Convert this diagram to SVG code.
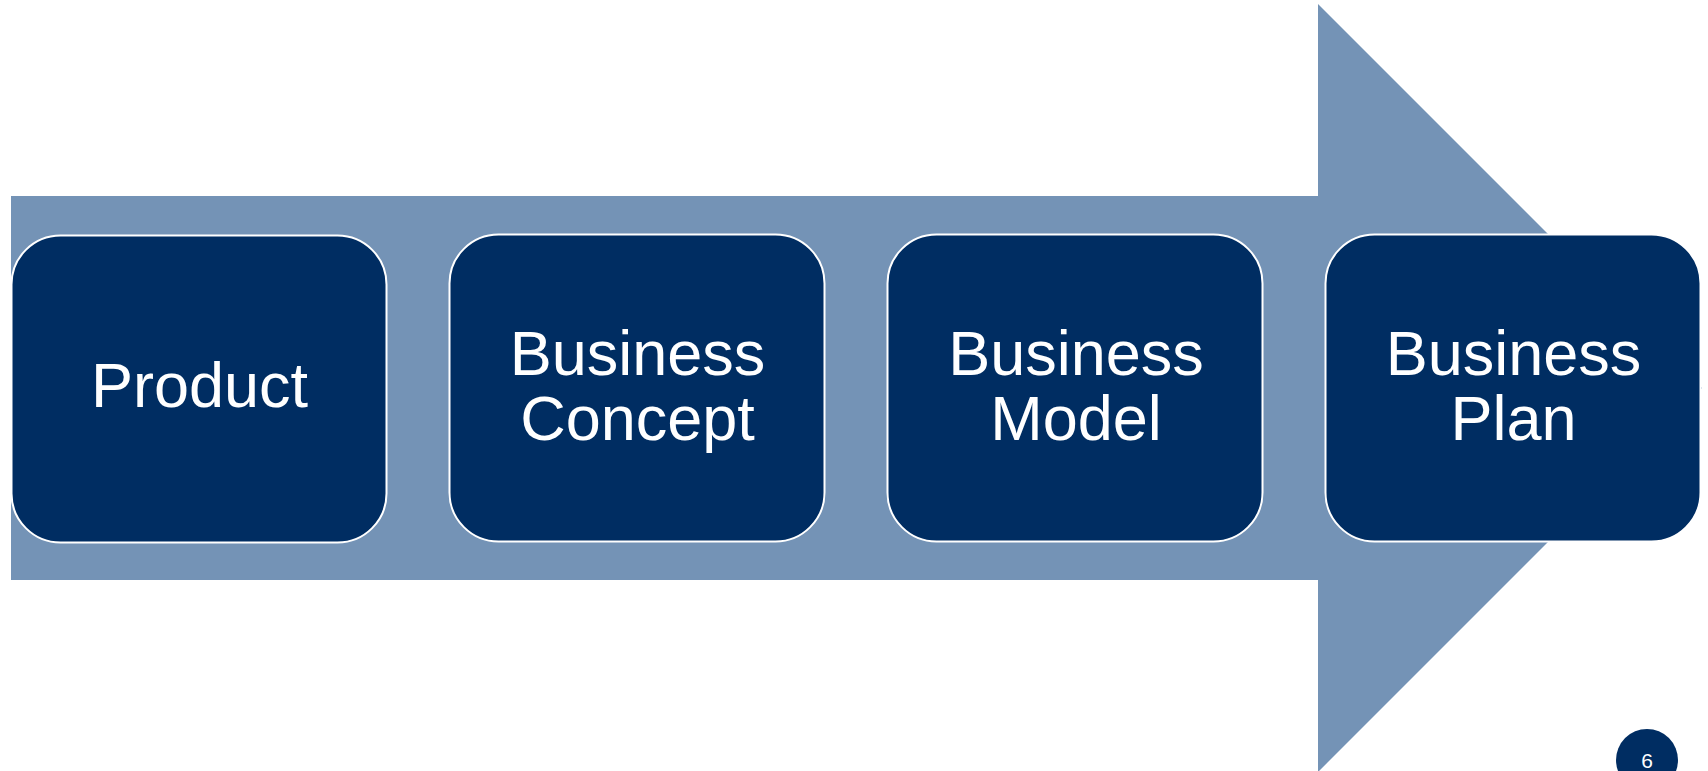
<svg xmlns="http://www.w3.org/2000/svg" width="1708" height="771" viewBox="0 0 1708 771">
  <style>
    .step { fill: #002D62; stroke: #FFFFFF; stroke-width: 2; }
    .label { fill: #FFFFFF; font-family: "Liberation Sans", Arial, sans-serif; font-size: 63px; text-anchor: middle; }
    .pageno { fill: #FFFFFF; font-family: "Liberation Sans", Arial, sans-serif; font-size: 21px; text-anchor: middle; }
  </style>
  <rect width="1708" height="771" fill="#FFFFFF"/>

  <!-- big process arrow behind the steps -->
  <g id="connectors">
    <polygon points="11,196 1318,196 1318,4 1702,388 1318,772 1318,580 11,580" fill="#7493B6"/>
  </g>

  <g id="product">
    <rect class="step" x="11.5" y="235.5" width="375" height="307" rx="49" ry="49"/>
    <text class="label" x="199.5" y="407">Product</text>
  </g>

  <g id="business-concept">
    <rect class="step" x="449.5" y="234.5" width="375" height="307" rx="49" ry="49"/>
    <text class="label" x="637.5" y="375">Business</text>
    <text class="label" x="637.5" y="440">Concept</text>
  </g>

  <g id="business-model">
    <rect class="step" x="887.5" y="234.5" width="375" height="307" rx="49" ry="49"/>
    <text class="label" x="1076" y="375">Business</text>
    <text class="label" x="1076" y="440">Model</text>
  </g>

  <g id="business-plan">
    <rect class="step" x="1325.5" y="234.5" width="375" height="307" rx="49" ry="49"/>
    <text class="label" x="1513.5" y="375">Business</text>
    <text class="label" x="1513.5" y="440">Plan</text>
  </g>

  <g id="page-number">
    <circle cx="1647" cy="760" r="31" fill="#002D62"/>
    <text class="pageno" x="1647" y="768">6</text>
  </g>
</svg>
